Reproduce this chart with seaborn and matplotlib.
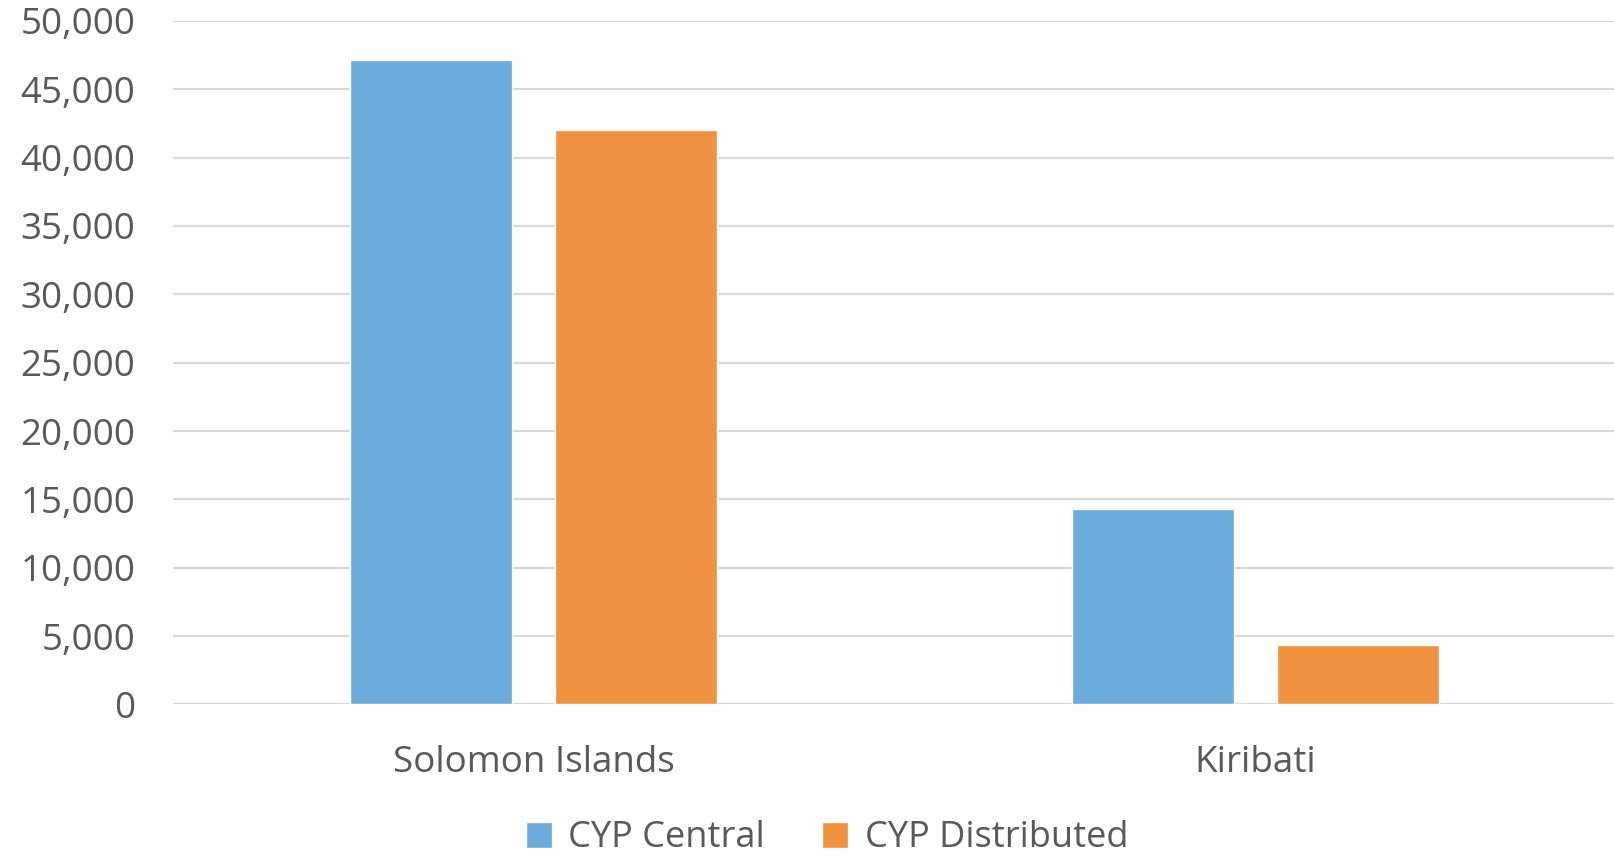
import matplotlib
matplotlib.use("Agg")
import matplotlib.pyplot as plt
import matplotlib.ticker as mticker
import pandas as pd
import seaborn as sns

countries = ["Solomon Islands", "Kiribati"]
series = ["CYP Central", "CYP Distributed"]
cyp_central = [47150, 14270]
cyp_distributed = [42000, 4360]
colors = ["#6CACDC", "#F19240"]

df = pd.DataFrame({
    "country": countries * 2,
    "series": [series[0]] * 2 + [series[1]] * 2,
    "value": cyp_central + cyp_distributed,
})

sns.set_theme(style="white")
plt.rcParams["font.family"] = ["Open Sans", "DejaVu Sans"]
text_color = "#595959"

fig = plt.figure(figsize=(16.15, 8.59), dpi=100)
ax = fig.add_axes([0.107, 0.180, 0.894, 0.7956])

sns.barplot(data=df, x="country", y="value", hue="series", order=countries,
            hue_order=series, palette=colors, width=0.568, gap=0.21,
            saturation=1, ax=ax, zorder=3, legend=True)

ax.set_ylim(0, 50000)
ax.set_xlim(-0.5, 1.5)
ax.yaxis.set_major_locator(mticker.MultipleLocator(5000))
ax.yaxis.set_major_formatter(mticker.FuncFormatter(lambda v, _: f"{int(v):,}"))
ax.grid(axis="y", color="#D9D9D9", linewidth=1.6, zorder=0)
ax.set_axisbelow(True)
for s in ax.spines.values():
    s.set_visible(False)
ax.set_xlabel("")
ax.set_ylabel("")
ax.tick_params(axis="y", length=0, pad=27, labelsize=26.5, labelcolor=text_color)
ax.tick_params(axis="x", length=0, pad=29, labelsize=26.5, labelcolor=text_color)

handles, labels = ax.get_legend_handles_labels()
ax.legend(handles, labels, loc="center", bbox_to_anchor=(0.512, 0.024),
          bbox_transform=fig.transFigure, ncol=2, frameon=False, fontsize=26,
          labelcolor=text_color, handlelength=0.72, handleheight=0.72,
          handletextpad=0.45, columnspacing=1.6, borderpad=0.2)

fig.savefig("out.png", dpi=100)
